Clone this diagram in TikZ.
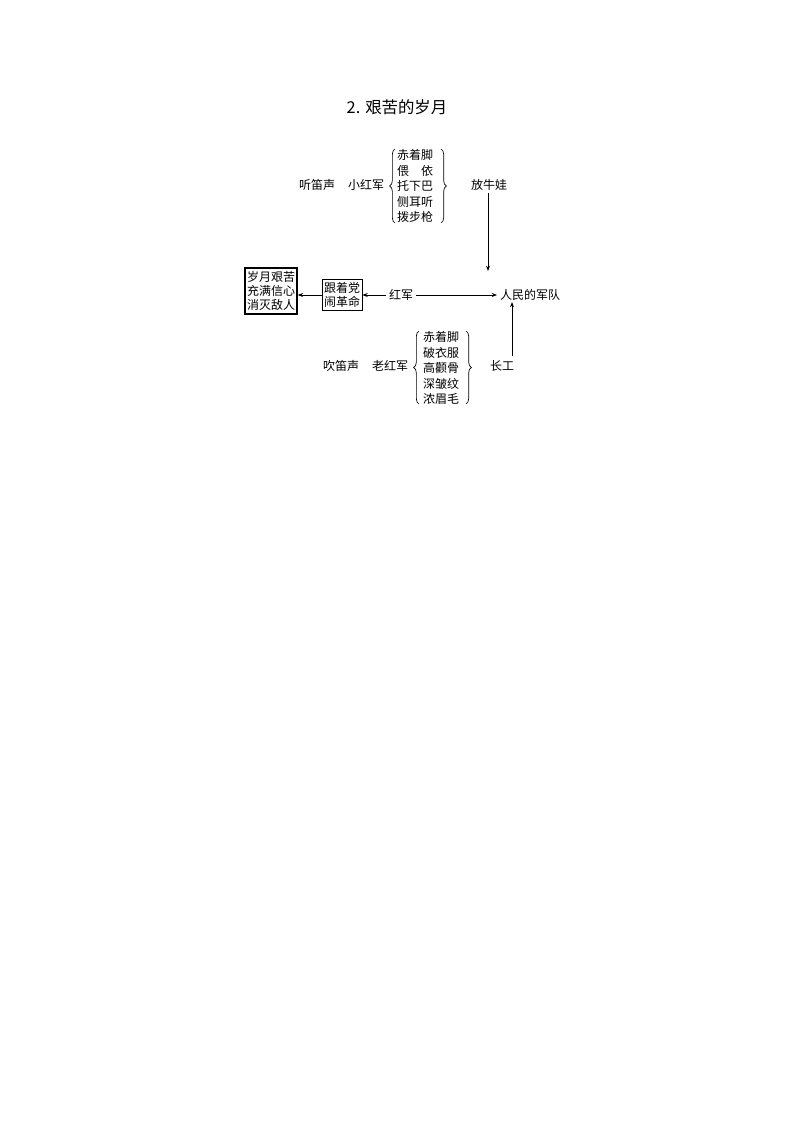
\documentclass[tikz,border=0pt]{standalone}
\usepackage{fontspec}
\setmainfont{Noto Sans CJK SC}
\usetikzlibrary{decorations.pathreplacing,arrows.meta}
\begin{document}
\begin{tikzpicture}[x=0.75pt,y=-0.75pt,
  lbl/.style={inner sep=0pt,font=\fontsize{9}{11.5}\selectfont},
  lst/.style={inner sep=0pt,align=center,font=\fontsize{9}{11.6}\selectfont},
  brc/.style={decorate,decoration={brace,amplitude=4pt},line width=0.5pt},
  arr/.style={-{Stealth[length=4pt,width=3pt]},line width=0.6pt},
  bx/.style={draw,line width=0.6pt,inner xsep=1.5pt,inner ysep=2.2pt,align=center,font=\fontsize{9}{10.5}\selectfont}]
\useasboundingbox (0,0) rectangle (800,1130);
\node[inner sep=0pt,font=\fontsize{12.3}{14}\selectfont] (title) at (397,107) {2. 艰苦的岁月};
% top group
\node[lbl] (tdi) at (317,185) {听笛声};
\node[lbl] (xhj) at (366,185) {小红军};
\node[lst] (tlist) at (415,186) {赤着脚\\偎\hspace{1em}依\\托下巴\\侧耳听\\拨步枪};
\coordinate (tbl1) at (395,223);
\coordinate (tbl2) at (395,149);
\draw[brc] (tbl1) -- (tbl2);
\coordinate (tbr1) at (441,149);
\coordinate (tbr2) at (441,223);
\draw[brc] (tbr1) -- (tbr2);
\node[lbl] (fnw) at (489,185) {放牛娃};
% middle row
\node[lbl] (rmjd) at (530,295) {人民的军队};
\node[lbl] (hj) at (401,295) {红军};
\node[bx] (gzd) at (342,295) {跟着党\\闹革命};
\node[bx,line width=1.1pt,inner ysep=2.6pt] (sy) at (271,291) {岁月艰苦\\充满信心\\消灭敌人};
\coordinate (fnwb) at (488,193);
\coordinate (fnwe) at (488,271);
\draw[arr] (fnwb) -- (fnwe);
\draw[arr] (hj.east) ++(3,0) coordinate (hje) (hje) -- ([xshift=-2]rmjd.west);
\draw[arr] (hj.west) ++(-3,0) coordinate (hjw) (hjw) -- (gzd.east);
\draw[arr] (gzd.west) -- (sy.east |- gzd.west);
% bottom group
\node[lbl] (cdi) at (341,366) {吹笛声};
\node[lbl] (lhj) at (390,366) {老红军};
\node[lst] (blist) at (441,368) {赤着脚\\破衣服\\高颧骨\\深皱纹\\浓眉毛};
\coordinate (bbl1) at (419,404);
\coordinate (bbl2) at (419,331);
\draw[brc] (bbl1) -- (bbl2);
\coordinate (bbr1) at (466,331);
\coordinate (bbr2) at (466,404);
\draw[brc] (bbr1) -- (bbr2);
\node[lbl] (cg) at (502,366) {长工};
\coordinate (cgtop) at (512,356);
\coordinate (cgend) at (512,302);
\draw[arr] (cgtop) -- (cgend);
\end{tikzpicture}
\end{document}
